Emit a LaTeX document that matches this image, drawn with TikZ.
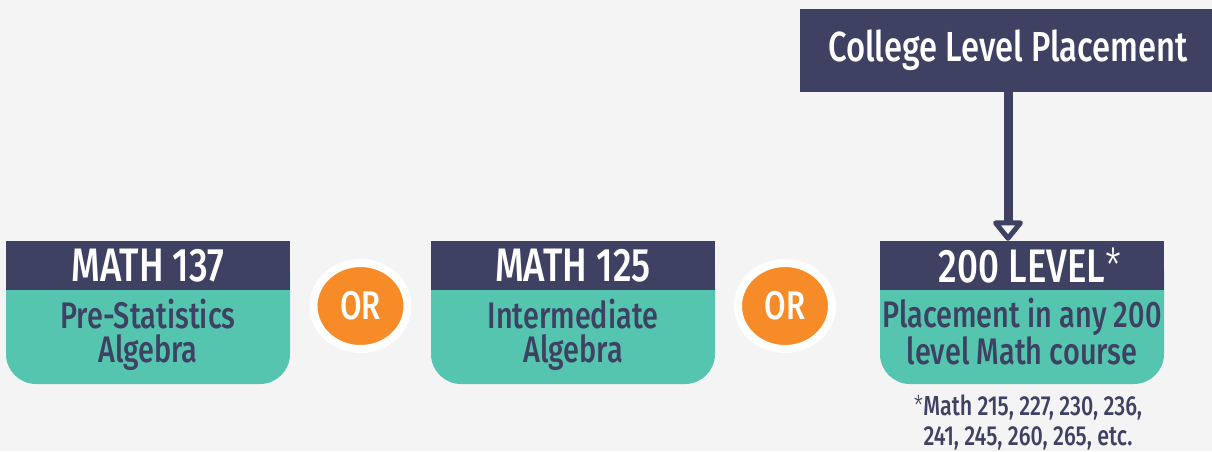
\documentclass[tikz,border=0pt]{standalone}
\usepackage{fontspec}
\setmainfont[FakeStretch=0.78, UprightFont=* Medium]{Fira Sans}
\newfontfamily\litefont[FakeStretch=0.78, UprightFont=* Light]{Fira Sans}
\usetikzlibrary{arrows.meta, positioning, shapes.geometric}

\definecolor{navy}{HTML}{3F4163}
\definecolor{mint}{HTML}{55C5B0}
\definecolor{tang}{HTML}{F68B27}
\definecolor{paper}{HTML}{F4F4F4}

\newcommand{\fnmark}{{\litefont *}}

\begin{document}
\begin{tikzpicture}[x=1pt, y=-1pt,
    hdr/.style={fill=navy, text=white, minimum width=284pt, minimum height=49pt,
                inner sep=0pt, font=\fontsize{47}{50}\selectfont},
    bodybox/.style={fill=mint, rounded corners=30pt, minimum width=284pt,
                minimum height=143pt, inner sep=0pt},
    bodytxt/.style={text=navy, align=center, inner sep=0pt,
                font=\fontsize{37}{34}\selectfont},
    orbub/.style={ellipse, fill=tang, draw=white, line width=8pt, minimum width=94pt,
                minimum height=86pt, inner sep=0pt, text=white,
                font=\fontsize{40}{40}\selectfont},
    topbox/.style={fill=navy, text=white, minimum width=416pt, minimum height=83pt,
                inner sep=0pt, font=\fontsize{42}{44}\selectfont},
    note/.style={text=navy, align=center, inner sep=0pt, font=\fontsize{27.5}{30}\selectfont},
    arr/.style={line width=9pt, navy,
                -{Triangle[open, round, length=22pt, width=34pt, line width=5pt]}}
]

\fill[paper] (0,0) rectangle (1212,451);
\useasboundingbox (0,0) rectangle (1212,451);

% ---- MATH 137 ----
\node[bodybox] (bodyA) at (148,312.5) {};
\node[hdr] (hdrA) at (148,265.5) {MATH 137};
\node[bodytxt] (txtA) at (148,335) {Pre-Statistics\\Algebra};

% ---- first OR ----
\node[orbub] (orA) at (360.5,306) {OR};

% ---- MATH 125 ----
\node[bodybox] (bodyB) at (573,312.5) {};
\node[hdr] (hdrB) at (573,265.5) {MATH 125};
\node[bodytxt] (txtB) at (573,335) {Intermediate\\Algebra};

% ---- second OR ----
\node[orbub] (orB) at (785,306) {OR};

% ---- 200 level ----
\node[bodybox] (bodyC) at (1022,312.5) {};
\node[hdr] (hdrC) at (1022,265.5) {200 LEVEL\rlap{\fnmark}};
\node[bodytxt] (txtC) at (1022,331.5) {Placement in any 200\\level Math course};
\node[note] (noteC) at (1028,422) {\fnmark Math 215, 227, 230, 236,\\241, 245, 260, 265, etc.};

% ---- placement box + arrow ----
\node[topbox] (clp) at (1008,50.5) {College Level Placement};
\draw[arr] (clp.south) -- (clp.south |- hdrC.north);

\end{tikzpicture}
\end{document}
